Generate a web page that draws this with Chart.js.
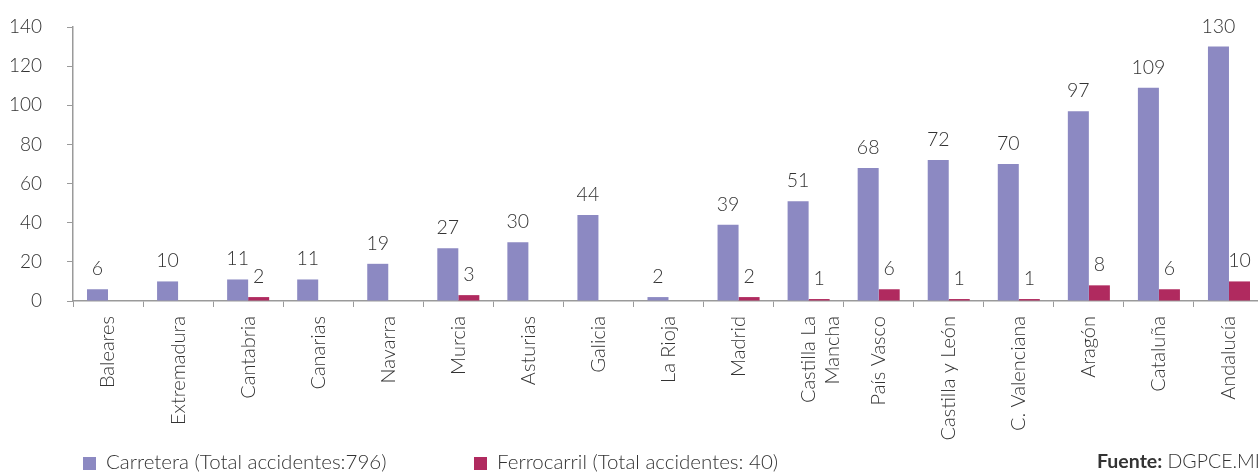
<!DOCTYPE html>
<html>
<head>
<meta charset="utf-8">
<script src="https://cdn.jsdelivr.net/npm/chart.js@4"></script>
<style>
  html, body { margin: 0; padding: 0; background: #fff; overflow: hidden; }
  #wrap { position: relative; width: 1264px; height: 472px; }
  .leg { position: absolute; top: 449px; font-family: Lato, sans-serif; font-weight: 300;
         font-size: 20.5px; color: #333; white-space: nowrap; }
  .sq { display: inline-block; width: 13px; height: 13px; margin-right: 10px; vertical-align: -1px; }
</style>
</head>
<body>
<div id="wrap">
  <canvas id="accidentes"></canvas>
  <div class="leg" style="left:83px"><span class="sq" style="background:#8c89c2"></span>Carretera (Total accidentes:796)</div>
  <div class="leg" style="left:474px"><span class="sq" style="background:#b02a5f"></span>Ferrocarril (Total accidentes: 40)</div>
  <div class="leg" style="left:1097px;font-size:19.5px"><b style="font-weight:700">Fuente:</b> DGPCE.MIR</div>
</div>
<script>
let regiones = ['Baleares', 'Extremadura', 'Cantabria', 'Canarias', 'Navarra', 'Murcia', 'Asturias',
    'Galicia', 'La Rioja', 'Madrid', ['Castilla La', 'Mancha'], 'País Vasco', 'Castilla y León',
    'C. Valenciana', 'Aragón', 'Cataluña', 'Andalucía'];
let carretera = [6, 10, 11, 11, 19, 27, 30, 44, 2, 39, 51, 68, 72, 70, 97, 109, 130];
let ferrocarril = [0, 0, 2, 0, 0, 3, 0, 0, 0, 2, 1, 6, 1, 1, 8, 6, 10];
let yTicks = [0, 20, 40, 60, 80, 100, 120, 140];

let txtCol = '#333333';
let axisCol = '#9a9a9a';
let fuente = 'Lato, sans-serif';

// numbers over the bars, skipping zeros
let valores = {
    id: 'valores',
    afterDatasetsDraw(chart) {
        let ctx = chart.ctx;
        ctx.save();
        ctx.font = '300 19.5px ' + fuente;
        ctx.fillStyle = txtCol;
        ctx.textAlign = 'center';
        ctx.textBaseline = 'alphabetic';
        chart.data.datasets.forEach(function (ds, i) {
            chart.getDatasetMeta(i).data.forEach(function (bar, j) {
                if (ds.data[j] > 0) {
                    ctx.fillText(String(ds.data[j]), bar.x, bar.y - 14);
                }
            });
        });
        ctx.restore();
    }
};

var c = document.getElementById('accidentes').getContext('2d');
var chart = new Chart(c, {
    type: 'bar',
    data: {
        labels: regiones,
        datasets: [
            { label: 'Carretera (Total accidentes:796)', data: carretera, backgroundColor: '#8c89c2',
              categoryPercentage: 0.6, barPercentage: 1 },
            { label: 'Ferrocarril (Total accidentes: 40)', data: ferrocarril, backgroundColor: '#b02a5f',
              categoryPercentage: 0.6, barPercentage: 1 }
        ]
    },
    options: {
        responsive: true,
        maintainAspectRatio: false,
        animation: false,
        layout: { padding: { top: 27, right: 0, bottom: 0, left: 0 } },
        plugins: { legend: { display: false }, tooltip: { enabled: false } },
        scales: {
            x: {
                afterFit: function (s) { s.height = 171; },
                border: { color: axisCol, width: 1.5 },
                grid: { drawOnChartArea: false, tickLength: 6, color: axisCol, offset: true },
                ticks: { color: txtCol, font: { family: fuente, size: 20, weight: 300 },
                         minRotation: 90, maxRotation: 90, autoSkip: false, padding: 9 }
            },
            y: {
                min: 0, max: 140,
                afterFit: function (s) { s.width = 73; s.paddingTop = 0; s.paddingBottom = 0; },
                afterBuildTicks: function (s) { s.ticks = yTicks.map(function (v) { return { value: v }; }); },
                border: { color: axisCol, width: 1.5 },
                grid: { drawOnChartArea: false, tickLength: 6, color: axisCol },
                ticks: { color: txtCol, font: { family: fuente, size: 19, weight: 300 }, padding: 25 }
            }
        }
    },
    plugins: [valores]
});
</script>
</body>
</html>
